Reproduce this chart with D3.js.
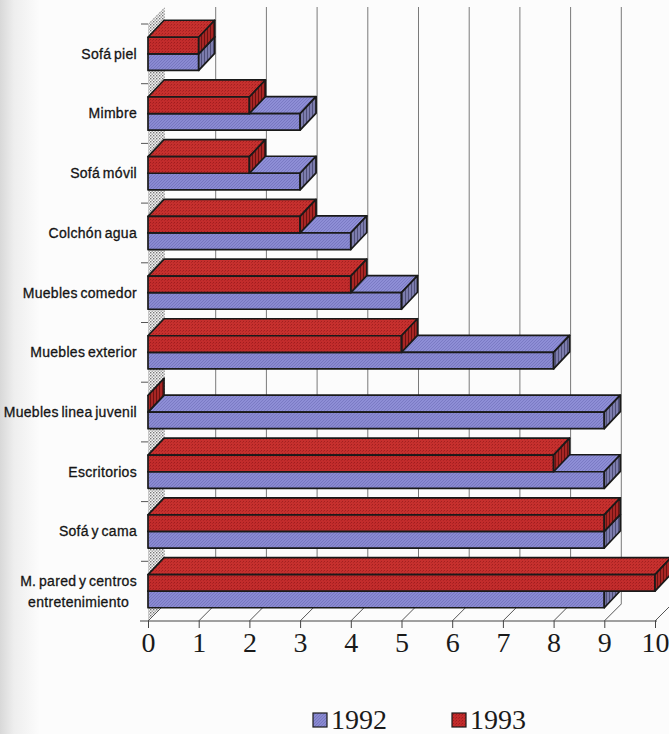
<!DOCTYPE html>
<html>
<head>
<meta charset="utf-8">
<script src="https://cdn.jsdelivr.net/npm/d3@7"></script>
<style>
  html, body { margin: 0; padding: 0; background: #fcfcfc; }
  svg { display: block; }
</style>
</head>
<body>
<svg id="chart" width="669" height="734"></svg>
<script>
// Furniture categories, top to bottom
const categories = [
  "Sofá piel",
  "Mimbre",
  "Sofá móvil",
  "Colchón agua",
  "Muebles comedor",
  "Muebles exterior",
  "Muebles linea juvenil",
  "Escritorios",
  "Sofá y cama",
  "M. pared y centros\nentretenimiento"
];
const seriesNames = ["1992", "1993"];
const values1992 = [1, 3, 3, 4, 5, 8, 9, 9, 9, 9];
const values1993 = [1, 2, 2, 3, 4, 5, 0, 8, 9, 10];
const tickValues = [0, 1, 2, 3, 4, 5, 6, 7, 8, 9, 10];

const svg = d3.select("#chart");
const defs = svg.append("defs");

// depth offsets of the 3D box: wall and bars
const WX = 17, WY = 17;
const BX = 16, BY = 17;

const x = d3.scaleLinear().domain([0, 10]).range([148, 655]);
const y = d3.scaleBand().domain(categories).range([24, 621]).padding(0);
const sub = d3.scaleBand().domain(["1993", "1992"]).range([0, y.bandwidth()])
  .paddingInner(0).paddingOuter(0.8);
const yFloor = y.range()[1];
const yTop = y.range()[0];

// ---------- textures ----------
function texture(id, base, ink, kind) {
  const p = defs.append("pattern").attr("id", id)
    .attr("patternUnits", "userSpaceOnUse").attr("width", 3).attr("height", 3);
  p.append("rect").attr("width", 3).attr("height", 3).attr("fill", base);
  if (kind === "diag") {
    p.append("path").attr("d", "M0,3 L3,0 M-1,1 L1,-1 M2,4 L4,2")
      .attr("stroke", ink).attr("stroke-width", 0.7);
  } else if (kind === "dots") {
    p.append("rect").attr("x", 0).attr("y", 0).attr("width", 1).attr("height", 1).attr("fill", ink);
    p.append("rect").attr("x", 2).attr("y", 1).attr("width", 1).attr("height", 1).attr("fill", ink).attr("opacity", 0.6);
  } else if (kind === "vert") {
    p.append("rect").attr("x", 0).attr("y", 0).attr("width", 1).attr("height", 3).attr("fill", ink);
  }
}
texture("redFront", "#c22c2c", "#a01c1e", "dots");
texture("redTop", "#c6302e", "#a2201f", "dots");
texture("redSide", "#a82624", "#6c1212", "vert");
texture("blueFront", "#8a8ad2", "#6e6eb8", "diag");
texture("blueTop", "#8e8ed6", "#7272bc", "diag");
texture("blueSide", "#7c7cac", "#50507a", "vert");

const wallPat = defs.append("pattern").attr("id", "wallDots")
  .attr("patternUnits", "userSpaceOnUse").attr("width", 3).attr("height", 3);
wallPat.append("rect").attr("width", 3).attr("height", 3).attr("fill", "#f4f4f4");
wallPat.append("rect").attr("x", 0).attr("y", 0).attr("width", 1.4).attr("height", 1.4).attr("fill", "#777");
wallPat.append("rect").attr("x", 1.5).attr("y", 1.5).attr("width", 1.4).attr("height", 1.4).attr("fill", "#999");

const fills = {
  "1992": { front: "url(#blueFront)", top: "url(#blueTop)", side: "url(#blueSide)" },
  "1993": { front: "url(#redFront)", top: "url(#redTop)", side: "url(#redSide)" }
};

// ---------- page shading on the left margin ----------
const shade = defs.append("linearGradient").attr("id", "margin").attr("x1", 0).attr("x2", 1);
shade.append("stop").attr("offset", 0).attr("stop-color", "#d8d8d8");
shade.append("stop").attr("offset", 0.35).attr("stop-color", "#eeeeee");
shade.append("stop").attr("offset", 1).attr("stop-color", "#fcfcfc");
svg.append("rect").attr("width", 40).attr("height", 734).attr("fill", "url(#margin)");

// ---------- back wall grid ----------
svg.append("g").selectAll("line").data(tickValues.filter(v => v > 0)).join("line")
  .attr("x1", d => x(d) + WX).attr("x2", d => x(d) + WX)
  .attr("y1", yTop - WY).attr("y2", yFloor - WY)
  .attr("stroke", "#7a7a7a").attr("stroke-width", 1);

// ---------- left side wall ----------
svg.append("path")
  .attr("d", `M${x(0)},${yTop} L${x(0) + WX},${yTop - WY} L${x(0) + WX},${yFloor - WY} L${x(0)},${yFloor} Z`)
  .attr("fill", "url(#wallDots)");

// ---------- floor ----------
const floor = svg.append("g");
floor.selectAll("line.depth").data(tickValues).join("line").attr("class", "depth")
  .attr("x1", d => x(d)).attr("y1", yFloor)
  .attr("x2", d => x(d) + WX).attr("y2", yFloor - WY)
  .attr("stroke", "#555").attr("stroke-width", 1);

// ---------- category ticks on the left edge ----------
svg.append("g").selectAll("line").data(categories).join("line")
  .attr("x1", x(0) - 7).attr("x2", x(0))
  .attr("y1", d => y(d)).attr("y2", d => y(d))
  .attr("stroke", "#555").attr("stroke-width", 1);

// ---------- bars ----------
const rows = categories.map((c, i) => ({ cat: c, "1992": values1992[i], "1993": values1993[i] }));
const barsG = svg.append("g");
rows.forEach(r => {
  ["1992", "1993"].forEach(s => {
    const x0 = x(0), x1 = x(r[s]);
    const yt = y(r.cat) + sub(s), yb = yt + sub.bandwidth();
    const g = barsG.append("g")
      .attr("stroke", "#1a1a1a").attr("stroke-width", 1.7).attr("stroke-linejoin", "round");
    g.append("path")
      .attr("d", `M${x0},${yt} L${x1},${yt} L${x1 + BX},${yt - BY} L${x0 + BX},${yt - BY} Z`)
      .attr("fill", fills[s].top);
    if (x1 > x0) {
      g.append("rect").attr("x", x0).attr("y", yt).attr("width", x1 - x0).attr("height", yb - yt)
        .attr("fill", fills[s].front);
    }
    g.append("path")
      .attr("d", `M${x1},${yt} L${x1 + BX},${yt - BY} L${x1 + BX},${yb - BY} L${x1},${yb} Z`)
      .attr("fill", fills[s].side);
  });
});

// ---------- value axis ----------
const axis = d3.axisBottom(x).tickValues(tickValues).tickSize(7).tickSizeOuter(0).tickPadding(4);
const axG = svg.append("g").attr("transform", `translate(0,${yFloor})`).call(axis);
axG.select(".domain").remove();
axG.selectAll(".tick line").attr("stroke", "#444");
axG.selectAll(".tick text")
  .attr("font-family", "'Liberation Serif', 'Times New Roman', serif")
  .attr("font-size", 28).attr("fill", "#1a1a1a");
svg.append("line").attr("x1", x(0) - 8).attr("x2", x(10) + 2)
  .attr("y1", yFloor).attr("y2", yFloor).attr("stroke", "#444").attr("stroke-width", 1);

// ---------- category labels ----------
const labels = svg.append("g")
  .attr("font-family", "'Liberation Sans', Arial, sans-serif")
  .attr("font-size", 14).attr("fill", "#151515")
  .attr("stroke", "#151515").attr("stroke-width", 0.3)
  .attr("letter-spacing", 0.3)
  .attr("word-spacing", -1.5);
categories.forEach(c => {
  const lines = c.split("\n");
  const cy = y(c) + y.bandwidth() / 2;
  const t = labels.append("text").attr("text-anchor", "middle");
  lines.forEach((ln, i) => {
    t.append("tspan").attr("x", 0)
      .attr("y", cy + (i - (lines.length - 1) / 2) * 21)
      .attr("dy", "0.35em").text(ln);
  });
  const w = d3.max(t.selectAll("tspan").nodes(), n => n.getComputedTextLength());
  t.selectAll("tspan").attr("x", 137 - w / 2);
});

// ---------- legend ----------
const legend = svg.append("g");
const legendX = [313, 452];
seriesNames.forEach((s, i) => {
  legend.append("rect").attr("x", legendX[i]).attr("y", 713).attr("width", 14).attr("height", 14)
    .attr("fill", fills[s].front).attr("stroke", "#1c1c1c").attr("stroke-width", 1.2);
  legend.append("text").attr("x", legendX[i] + 18).attr("y", 729)
    .attr("font-family", "'Liberation Serif', 'Times New Roman', serif")
    .attr("font-size", 28).attr("fill", "#1a1a1a").text(s);
});
</script>
</body>
</html>
